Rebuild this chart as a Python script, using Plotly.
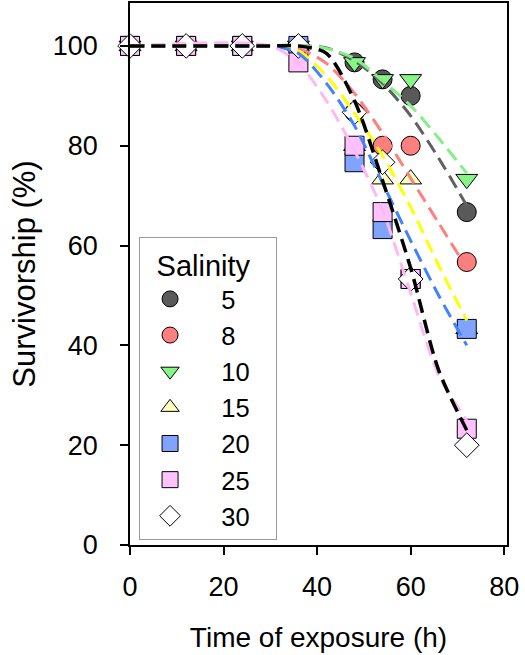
import plotly.graph_objects as go

# ---- data ----
times = [0, 12, 24, 36, 48, 54, 60, 72]
salinity_labels = ["5", "8", "10", "15", "20", "25", "30"]
surv_5 = [100, 100, 100, 100, 96.7, 93.3, 90.0, 66.7]
surv_8 = [100, 100, 100, 100, 86.7, 80.0, 80.0, 56.7]
surv_10 = [100, 100, 100, 100, 96.7, 93.3, 93.3, 73.3]
surv_15 = [100, 100, 100, 100, 80.0, 73.3, 73.3, 43.3]
surv_20 = [100, 100, 100, 100, 76.7, 63.3, 53.3, 43.3]
surv_25 = [100, 100, 100, 96.7, 80.0, 66.7, 53.3, 23.3]
surv_30 = [100, 100, 100, 100, 86.7, 76.7, 53.3, 20.0]

# fitted (dashed) curves
fit_t = [0, 30, 36, 42, 48, 54, 60, 66, 72]
fit_5 = [100, 100, 100, 99.6, 97.0, 92.5, 86.0, 77.5, 68.0]
fit_8 = [100, 100, 99.5, 96.5, 90.5, 82.5, 73.5, 64.5, 55.5]
fit_10 = [100, 100, 100, 99.5, 97.5, 93.0, 88.0, 81.5, 74.5]
fit_15 = [100, 100, 99.0, 94.0, 86.5, 78.0, 67.7, 56.0, 45.0]
fit_20 = [100, 100, 98.5, 92.5, 84.0, 72.5, 61.0, 50.0, 40.0]
fit_25 = [100, 100, 96.5, 89.0, 79.0, 67.0, 50.5, 34.0, 25.0]
fit_30 = [100, 100, 100, 98.5, 89.0, 73.0, 55.5, 35.0, 23.0]

surv = [surv_5, surv_8, surv_10, surv_15, surv_20, surv_25, surv_30]
fits = [fit_5, fit_8, fit_10, fit_15, fit_20, fit_25, fit_30]

symbols = ["circle", "circle", "triangle-down", "triangle-up", "square", "square", "diamond"]
fills = ["#595959", "#FF7F7F", "#86F586", "#FFFFC0", "#7FA3FF", "#FFC2FF", "#FFFFFF"]
line_cols = ["#606060", "#FF7F7F", "#86EE86", "#FFFF00", "#4282FF", "#FFB8F2", "#000000"]

FONT = "Liberation Sans, Arial, sans-serif"
NB = "\u00a0"

fig = go.Figure()

for lab, ys, sym, fc in zip(salinity_labels, surv, symbols, fills):
    fig.add_trace(go.Scatter(
        x=times, y=ys, mode="markers", name=NB * 3 + lab + NB * 3,
        marker=dict(symbol=sym, size=19, color=fc, line=dict(color="black", width=1)),
        cliponaxis=False,
    ))

for ys, lc in zip(fits, line_cols):
    fig.add_trace(go.Scatter(
        x=fit_t, y=ys, mode="lines", showlegend=False, hoverinfo="skip",
        line=dict(color=lc, width=3.5 if lc == "#000000" else 3, dash="14px,7px",
                  shape="spline", smoothing=0.8),
    ))

axis_common = dict(
    showline=True, linecolor="black", linewidth=1.5, mirror=True,
    ticks="outside", ticklen=8, tickwidth=1.5, tickcolor="black",
    showgrid=False, zeroline=False, automargin=False,
    tickfont=dict(family=FONT, size=27, color="black"),
)

fig.update_layout(
    width=525, height=655,
    margin=dict(l=130, r=18, t=3, b=110),
    paper_bgcolor="white", plot_bgcolor="white",
    font=dict(family=FONT, color="black"),
    xaxis=dict(range=[0, 80.6], tickvals=[0, 20, 40, 60, 80],
               title=dict(text="Time of exposure (h)", font=dict(family=FONT, size=28), standoff=26),
               ticklabelstandoff=9,
               **axis_common),
    yaxis=dict(range=[0, 108.6], tickvals=[0, 20, 40, 60, 80, 100],
               title=dict(text="Survivorship (%)", font=dict(family=FONT, size=31), standoff=8),
               ticklabelstandoff=17,
               **axis_common),
    legend=dict(
        x=0.024, y=0.009, xanchor="left", yanchor="bottom",
        bordercolor="#999999", borderwidth=1, bgcolor="white",
        font=dict(family=FONT, size=25.5, color="black"),
        title=dict(text="\u2002Salinity", font=dict(family=FONT, size=29)),
        itemwidth=50, tracegroupgap=0,
    ),
)

fig.write_html(
    "out.html",
    config={"displayModeBar": False},
    post_script="document.body.style.margin='0';document.body.style.overflow='hidden';",
)
